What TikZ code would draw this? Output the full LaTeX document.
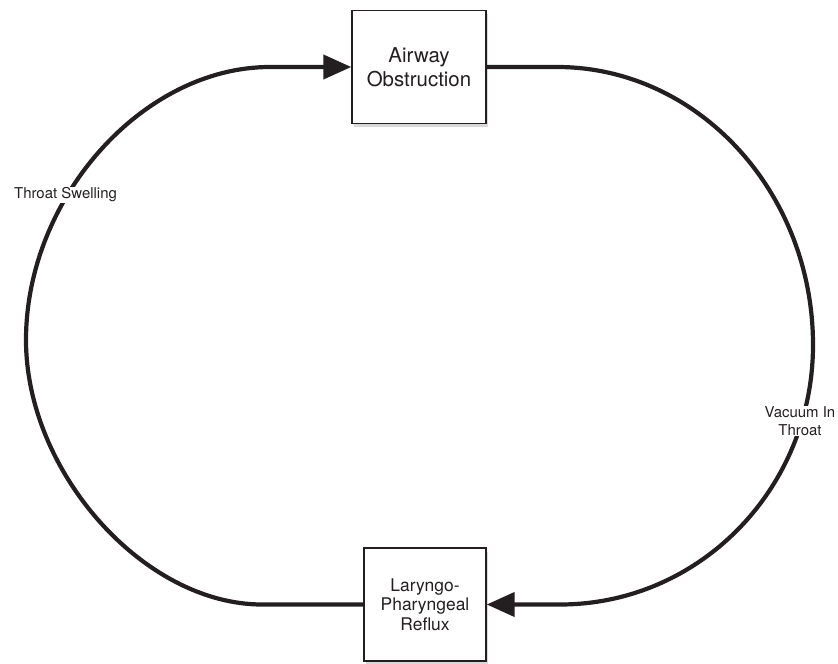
\documentclass[tikz,border=0pt]{standalone}
\usepackage{fontspec}
\setmainfont{TeX Gyre Heros}
\usetikzlibrary{arrows.meta, shadows}

\definecolor{inkgray}{HTML}{231F20}

\tikzset{
  stage/.style={draw=inkgray, line width=1.4bp, fill=white, text=inkgray,
    minimum width=134bp, minimum height=113bp, align=center,
    drop shadow={shadow xshift=1.5bp, shadow yshift=-3.5bp, opacity=0.3}},
  flow/.style={draw=inkgray, line width=4.2bp, -{Triangle[length=28bp,width=24bp]}},
  cue/.style={fill=white, inner sep=1bp, align=center, text=inkgray,
    font=\fontsize{15}{17.5}\selectfont}
}

\begin{document}
\begin{tikzpicture}[x=1bp, y=-1bp]
  \useasboundingbox (0,0) rectangle (838,664);

  \node[stage, font=\fontsize{20.5}{24}\selectfont] (obstr) at (419,67) {Airway\\Obstruction};
  \node[stage, minimum width=122bp, font=\fontsize{17.5}{19.5}\selectfont] (reflux) at (425,604.5) {Laryngo-\\Pharyngeal\\Reflux};

  % left loop
  \coordinate (L1) at (262,604.5);
  \coordinate (L2) at (26,340);
  \coordinate (L3) at (270,67);
  \draw[flow] (reflux.west) -- (L1) .. controls (144,604.5) and (26,472) .. (L2)
    .. controls (26,198) and (143,67) .. (L3) -- (obstr.west);

  % right loop
  \coordinate (R1) at (557,67);
  \coordinate (R2) at (813,345);
  \coordinate (R3) at (560,604.5);
  \draw[flow] (obstr.east) -- (R1) .. controls (698,67) and (813,192) .. (R2)
    .. controls (813,488) and (700,604.5) .. (R3) -- (reflux.east);

  \node[cue] (swell) at (65.5,195) {Throat Swelling};
  \node[cue] (vacuum) at (800,421) {Vacuum In\\Throat};
\end{tikzpicture}
\end{document}
